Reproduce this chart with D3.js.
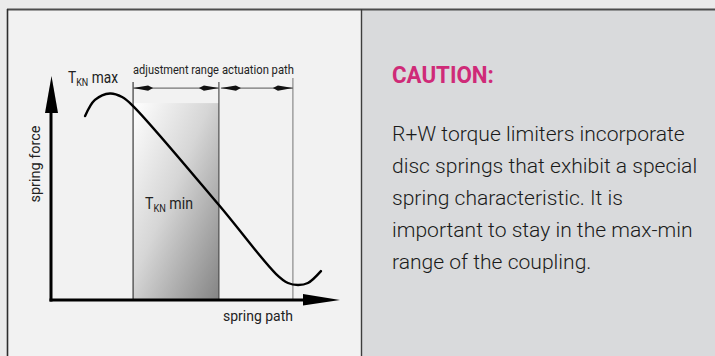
<!DOCTYPE html>
<html>
<head>
<meta charset="utf-8">
<script src="https://cdn.jsdelivr.net/npm/d3@7"></script>
<style>
  html, body { margin: 0; padding: 0; background: #ebebeb; }
  svg { display: block; }
  text { font-family: Roboto, "Liberation Sans", sans-serif; }
</style>
</head>
<body>
<svg id="chart" width="715" height="356"></svg>
<script>
// Disc spring characteristic: spring force over spring path (relative units 0..100)
const curvePath  = [11.8, 15.2, 20.4, 24.6, 28.4, 58.1, 77.9, 82.0, 85.5, 88.9, 93.4];
const curveForce = [82.1, 89.3, 92.2, 90.6, 86.6, 42.4, 11.6, 7.6, 6.7, 7.6, 12.9];

// Ranges along the spring path
const rangeNames  = ["adjustment range", "actuation path"];
const rangeStarts = [28.4, 58.1];
const rangeEnds   = [58.1, 83.7];
const boxTop = 87.9;        // force level where the shaded adjustment band starts
const dimLevel = 94.6;      // force level of the dimension arrows
const guideTops = [97.3, 97.3, 99.1];

const axisTitles = { x: "spring path", y: "spring force" };
const noteTitle = "CAUTION:";
const noteLines = [
  "R+W torque limiters incorporate",
  "disc springs that exhibit a special",
  "spring characteristic. It is",
  "important to stay in the max-min",
  "range of the coupling."
];

const svg = d3.select("#chart");
const defs = svg.append("defs");

// Squeeze a text horizontally (condensed face look) to a given width, about its anchor point
function condense(sel, width, base) {
  const w = sel.node().getComputedTextLength();
  const k = width / w;
  if (base) {
    sel.attr("transform", `${base} scale(${k},1)`);
  } else {
    const x0 = +sel.attr("x");
    sel.attr("transform", `translate(${x0},0) scale(${k},1) translate(${-x0},0)`);
  }
  return k;
}

// Panels and frame
svg.append("rect").attr("x", 8).attr("y", 10).attr("width", 354).attr("height", 346).attr("fill", "#f2f2f2");
svg.append("rect").attr("x", 362).attr("y", 10).attr("width", 353).attr("height", 346).attr("fill", "#d9dadc");
svg.append("line").attr("x1", 7).attr("x2", 715).attr("y1", 9.5).attr("y2", 9.5).attr("stroke", "#4d4d4d").attr("stroke-width", 2);
svg.append("line").attr("x1", 7.5).attr("x2", 7.5).attr("y1", 9).attr("y2", 356).attr("stroke", "#2e2e2e").attr("stroke-width", 1.6);
svg.append("line").attr("x1", 361.5).attr("x2", 361.5).attr("y1", 9).attr("y2", 356).attr("stroke", "#3d3d3d").attr("stroke-width", 1.4);

const x = d3.scaleLinear().domain([0, 100]).range([51, 340]);
const y = d3.scaleLinear().domain([0, 100]).range([300, 76]);

// Shaded adjustment band
const grad = defs.append("linearGradient").attr("id", "band")
  .attr("x1", 0).attr("y1", 0).attr("x2", 1).attr("y2", 1);
grad.append("stop").attr("offset", 0).attr("stop-color", "#ffffff");
grad.append("stop").attr("offset", 0.45).attr("stop-color", "#d6d6d6");
grad.append("stop").attr("offset", 1).attr("stop-color", "#848484");

svg.append("rect")
  .attr("x", x(rangeStarts[0])).attr("y", y(boxTop))
  .attr("width", x(rangeEnds[0]) - x(rangeStarts[0]))
  .attr("height", y(0) - y(boxTop))
  .attr("fill", "url(#band)");

// Vertical guide lines at range limits
const guideXs = [rangeStarts[0], rangeEnds[0], rangeEnds[1]];
const guideColors = ["#2a2a2a", "#444", "#8a8a8a"];
guideXs.forEach((gx, i) => {
  svg.append("line")
    .attr("x1", x(gx)).attr("x2", x(gx))
    .attr("y1", y(guideTops[i])).attr("y2", y(0))
    .attr("stroke", guideColors[i]).attr("stroke-width", i === 2 ? 1.2 : 1.1);
});

// Dimension arrows with labels
function dimArrow(px, py, dir) {
  // narrow filled arrowhead with tip at px
  const len = 15, half = 2.6;
  svg.append("path")
    .attr("d", `M${px},${py} L${px + dir * len},${py - half} L${px + dir * (len + 5)},${py} L${px + dir * len},${py + half} Z`)
    .attr("fill", "#111");
}
const rangeLabelWidths = [86, 72];
rangeNames.forEach((name, i) => {
  const x0 = x(rangeStarts[i]) + (i ? 2 : 0), x1 = x(rangeEnds[i]);
  const yy = y(dimLevel);
  svg.append("line").attr("x1", x0).attr("x2", x1).attr("y1", yy).attr("y2", yy)
    .attr("stroke", "#555").attr("stroke-width", 1);
  dimArrow(x0, yy, 1);
  dimArrow(x1, yy, -1);
  const t = svg.append("text")
    .attr("x", (x(rangeStarts[i]) + x(rangeEnds[i])) / 2 + (i ? 2 : 0))
    .attr("y", 74)
    .attr("text-anchor", "middle")
    .attr("font-size", 13.5)
    .attr("fill", "#222")
    .text(name);
  condense(t, rangeLabelWidths[i]);
});

// Spring characteristic
const line = d3.line()
  .x((d, i) => x(curvePath[i]))
  .y((d, i) => y(curveForce[i]))
  .curve(d3.curveCatmullRom.alpha(0.5));
svg.append("path")
  .attr("d", line(curvePath))
  .attr("fill", "none")
  .attr("stroke", "#000")
  .attr("stroke-width", 2.4)
  .attr("stroke-linecap", "round");

// Axes with arrowheads
svg.append("line").attr("x1", x(0)).attr("x2", x(0)).attr("y1", y(0) + 1.5).attr("y2", 108)
  .attr("stroke", "#000").attr("stroke-width", 3);
svg.append("path")
  .attr("d", `M${x(0) - 6},113 L${x(0) + 0.5},${y(100)} L${x(0) + 7},113 Z`)
  .attr("fill", "#000");
svg.append("line").attr("x1", x(0) - 1.5).attr("x2", 305).attr("y1", y(0)).attr("y2", y(0))
  .attr("stroke", "#000").attr("stroke-width", 3);
svg.append("path")
  .attr("d", `M303,${y(0) - 6} L${x(100)},${y(0)} L303,${y(0) + 5.5} Z`)
  .attr("fill", "#000");

// Axis titles
const xt = svg.append("text")
  .attr("x", 293).attr("y", 321)
  .attr("text-anchor", "end")
  .attr("font-size", 15)
  .attr("fill", "#222")
  .text(axisTitles.x);
condense(xt, 70);
const yt = svg.append("text")
  .attr("text-anchor", "middle")
  .attr("font-size", 15)
  .attr("fill", "#222")
  .text(axisTitles.y);
condense(yt, 77, "translate(40,164) rotate(-90)");

// T_KN labels
function tkn(px, py, word, width) {
  const t = svg.append("text")
    .attr("x", px).attr("y", py).attr("font-size", 16).attr("fill", "#222");
  t.append("tspan").text("T");
  t.append("tspan").attr("font-size", 10.5).attr("dy", 3).text("KN");
  t.append("tspan").attr("dy", -3).text(" " + word);
  condense(t, width);
}
tkn(68, 83, "max", 50);
tkn(145, 209, "min", 48);

// Note panel
const nt = svg.append("text")
  .attr("x", 392).attr("y", 83)
  .attr("font-size", 23)
  .attr("font-weight", "bold")
  .attr("fill", "#cf2a78")
  .text(noteTitle);
condense(nt, 102);

const body = svg.append("g").selectAll("text").data(noteLines).join("text")
  .attr("x", 392)
  .attr("y", (d, i) => 141 + i * 32)
  .attr("font-size", 20.5)
  .attr("font-weight", 300)
  .attr("fill", "#1a1a1a")
  .text(d => d);
// one common squeeze for the whole paragraph, set by its first line
const k = 293 / body.nodes()[0].getComputedTextLength();
body.attr("transform", `translate(392,0) scale(${k},1) translate(-392,0)`);
</script>
</body>
</html>
